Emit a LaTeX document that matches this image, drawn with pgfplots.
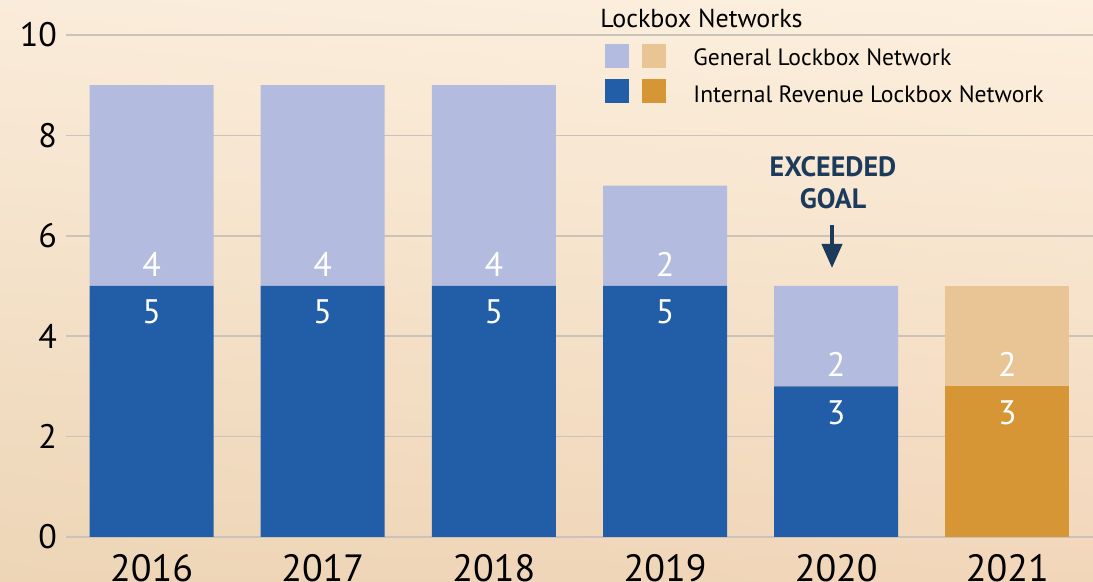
\documentclass[border=0pt]{standalone}
\usepackage{pgfplots}
\pgfplotsset{compat=1.18}
\usepackage{fontspec}
\setmainfont{PT Sans}
\usetikzlibrary{arrows.meta,shadings}

\definecolor{irblue}{HTML}{225EA8}
\definecolor{genblue}{HTML}{B3BCDE}
\definecolor{irorange}{HTML}{D69636}
\definecolor{genorange}{HTML}{E9C494}
\definecolor{navy}{HTML}{1B3A5C}
\definecolor{gridc}{HTML}{C9C3BC}
\definecolor{bgul}{RGB}{250,236,218}
\definecolor{bgur}{RGB}{252,240,222}
\definecolor{bgll}{RGB}{237,213,182}
\definecolor{bglr}{RGB}{242,214,186}

\begin{document}
\begin{tikzpicture}
\path[use as bounding box] (0,0) rectangle (546.5pt,291pt);
\clip (0,0) rectangle (546.5pt,291pt);
\shade[upper left=bgul, upper right=bgur, lower left=bgll, lower right=bglr]
  (0,0) rectangle (546.5pt,291pt);

\begin{axis}[
  at={(33pt,22.5pt)}, anchor=south west,
  scale only axis, width=513.5pt, height=251pt,
  ybar stacked, bar width=62pt,
  xmin=-0.5, xmax=5.5, ymin=0, ymax=10,
  xtick={0,...,5}, xticklabels={2016,2017,2018,2019,2020,2021},
  ytick={0,2,...,10},
  axis line style={draw=none},
  major tick length=0,
  ymajorgrids, grid style={gridc, line width=0.75pt},
  tick label style={font=\fontsize{17}{17}\selectfont},
  xticklabel style={font=\fontsize{19}{19}\selectfont, yshift=-5pt},
  yticklabel style={xshift=-1pt},
  /pgf/number format/assume math mode=true,
  clip=false,
]
\addplot[fill=irblue, draw=none] coordinates {(0,5) (1,5) (2,5) (3,5) (4,3) (5,0)};
\addplot[fill=irorange, draw=none] coordinates {(0,0) (1,0) (2,0) (3,0) (4,0) (5,3)};
\addplot[fill=genblue, draw=none] coordinates {(0,4) (1,4) (2,4) (3,2) (4,2) (5,0)};
\addplot[fill=genorange, draw=none] coordinates {(0,0) (1,0) (2,0) (3,0) (4,0) (5,2)};

\coordinate (b0) at (axis cs:0,5);
\coordinate (b1) at (axis cs:1,5);
\coordinate (b2) at (axis cs:2,5);
\coordinate (b3) at (axis cs:3,5);
\coordinate (b4) at (axis cs:4,3);
\coordinate (b5) at (axis cs:5,3);
\end{axis}

% segment values
\foreach \i/\lo/\up in {0/5/4, 1/5/4, 2/5/4, 3/5/2, 4/3/2, 5/3/2} {
  \node[white, font=\fontsize{17}{17}\selectfont] at ([yshift=11pt]b\i) {\up};
  \node[white, font=\fontsize{17}{17}\selectfont] at ([yshift=-13pt]b\i) {\lo};
}

% annotation
\node[navy, font=\bfseries\fontsize{14}{16}\selectfont, align=center] at (416.5pt,199.5pt) {EXCEEDED\\GOAL};
\draw[navy, line width=2pt, -{Triangle[width=10pt,length=12pt]}] (416pt,178.5pt) -- (416pt,157pt);

% legend
\node[anchor=west, inner sep=0pt, font=\fontsize{13}{13}\selectfont] at (300pt,282pt) {Lockbox Networks};
\fill[genblue] (302.5pt,257pt) rectangle (314.5pt,269pt);
\fill[genorange] (321pt,257pt) rectangle (333pt,269pt);
\fill[irblue] (302.5pt,239.5pt) rectangle (314.5pt,251.5pt);
\fill[irorange] (321pt,239.5pt) rectangle (333pt,251.5pt);
\node[anchor=west, inner sep=0pt, font=\fontsize{11.8}{11.8}\selectfont] at (346.5pt,262.5pt) {General Lockbox Network};
\node[anchor=west, inner sep=0pt, font=\fontsize{11.8}{11.8}\selectfont] at (346.5pt,244pt) {Internal Revenue Lockbox Network};
\end{tikzpicture}
\end{document}
